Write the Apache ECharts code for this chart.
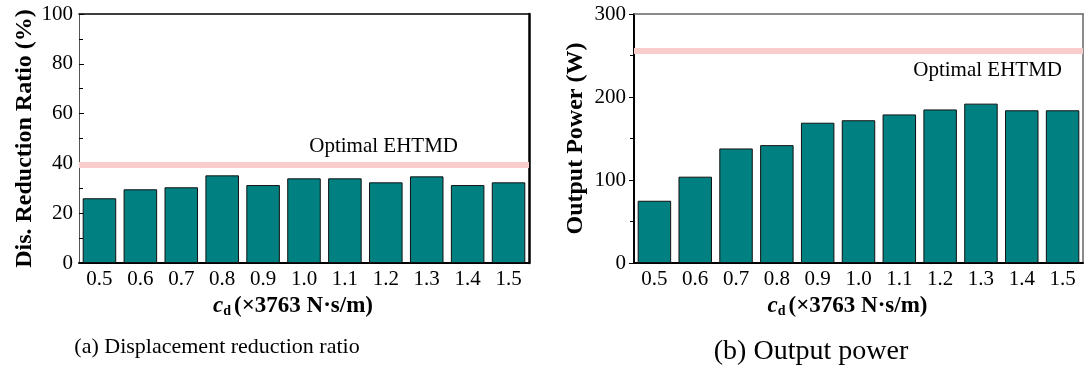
<!DOCTYPE html>
<html>
<head>
<meta charset="utf-8">
<script src="https://cdn.jsdelivr.net/npm/echarts@6/dist/echarts.min.js"></script>
<style>
  html, body { margin: 0; padding: 0; background: #fff; }
  #chart { width: 1089px; height: 373px; }
</style>
</head>
<body>
<div id="chart"></div>
<script>
const categories = ["0.5", "0.6", "0.7", "0.8", "0.9", "1.0", "1.1", "1.2", "1.3", "1.4", "1.5"];
const reductionRatio = [26.0, 29.6, 30.4, 35.2, 31.3, 34.0, 34.0, 32.4, 34.8, 31.3, 32.4];
const outputPower = [75, 104, 138, 142, 169, 172, 179, 185, 192, 184, 184];
const optimalRatio = 39.6;
const optimalPower = 256;

const font = "Liberation Serif";
const teal = "#008080";
const pink = "#f9cccc";

const xName = {
  name: "{i|c}{sub|d}(×3763 N·s/m)",
  nameLocation: "middle",
  nameGap: 24,
  nameTextStyle: {
    fontFamily: font, fontSize: 23, fontWeight: "bold", color: "#000",
    padding: [0, 22, 0, 0],
    rich: {
      i: { fontFamily: font, fontSize: 23, fontWeight: "bold", fontStyle: "italic", color: "#000" },
      sub: { fontFamily: font, fontSize: 14, fontWeight: "bold", color: "#000", verticalAlign: "bottom", padding: [7, 3, 0, 0] }
    }
  }
};

const bottomAxis = (gridIndex) => Object.assign({
  type: "category",
  gridIndex: gridIndex,
  data: categories,
  axisLine: { lineStyle: { color: "#000", width: 2 } },
  axisTick: { inside: true, alignWithLabel: true, length: 5, lineStyle: { color: "#000" } },
  axisLabel: { fontFamily: font, fontSize: 21, color: "#000", margin: 6 },
  splitLine: { show: false }
}, xName);

const chart = echarts.init(document.getElementById("chart"));
chart.setOption({
  animation: false,
  grid: [
    { left: 79, right: 560, top: 14, bottom: 110 },
    { left: 634, right: 6, top: 14, bottom: 110 }
  ],
  xAxis: [
    bottomAxis(0),
    {
      type: "category", gridIndex: 0, position: "top", data: categories,
      axisLine: { onZero: false, lineStyle: { color: "#000", width: 1.5 } },
      axisTick: { inside: true, alignWithLabel: true, length: 5, lineStyle: { color: "#000" } },
      axisLabel: { show: false }
    },
    bottomAxis(1),
    {
      type: "category", gridIndex: 1, position: "top", data: categories,
      axisLine: { onZero: false, lineStyle: { color: "#666", width: 1.5 } },
      axisTick: { show: false },
      axisLabel: { show: false }
    }
  ],
  yAxis: [
    {
      type: "value", gridIndex: 0, min: 0, max: 100, interval: 20,
      name: "Dis. Reduction Ratio (%)", nameLocation: "middle", nameGap: 42,
      nameTextStyle: { fontFamily: font, fontSize: 24, fontWeight: "bold", color: "#000" },
      axisLine: { show: true, lineStyle: { color: "#555", width: 1 } },
      axisTick: { show: true, inside: true, length: 5, lineStyle: { color: "#000" } },
      minorTick: { show: true, splitNumber: 2, length: 4, lineStyle: { color: "#000" } },
      axisLabel: { fontFamily: font, fontSize: 21, color: "#000", margin: 6 },
      splitLine: { show: false }
    },
    {
      type: "value", gridIndex: 0, position: "right", min: 0, max: 100,
      axisLine: { show: true, lineStyle: { color: "#000", width: 2.5 } },
      axisTick: { show: false }, axisLabel: { show: false }, splitLine: { show: false }
    },
    {
      type: "value", gridIndex: 1, min: 0, max: 300, interval: 100,
      name: "Output Power (W)", nameLocation: "middle", nameGap: 46,
      nameTextStyle: { fontFamily: font, fontSize: 24, fontWeight: "bold", color: "#000" },
      axisLine: { show: true, lineStyle: { color: "#000", width: 2 } },
      axisTick: { show: true, inside: false, length: 5, lineStyle: { color: "#000" } },
      minorTick: { show: true, splitNumber: 2, length: 4, lineStyle: { color: "#000" } },
      axisLabel: { fontFamily: font, fontSize: 21, color: "#000", margin: 8 },
      splitLine: { show: false }
    },
    {
      type: "value", gridIndex: 1, position: "right", min: 0, max: 300,
      axisLine: { show: true, lineStyle: { color: "#666", width: 1.5 } },
      axisTick: { show: false }, axisLabel: { show: false }, splitLine: { show: false }
    }
  ],
  series: [
    {
      type: "bar", xAxisIndex: 0, yAxisIndex: 0, data: reductionRatio,
      barCategoryGap: "18%",
      itemStyle: { color: teal, borderColor: "#111", borderWidth: 1 },
      markLine: {
        silent: true, symbol: "none",
        lineStyle: { color: pink, width: 6, type: "solid" },
        label: {
          show: true, position: "insideEndTop", formatter: "Optimal EHTMD",
          fontFamily: font, fontSize: 21, color: "#000", distance: 7,
          padding: [0, 64, 0, 0]
        },
        data: [{ yAxis: optimalRatio }]
      }
    },
    {
      type: "bar", xAxisIndex: 2, yAxisIndex: 2, data: outputPower,
      barCategoryGap: "18%",
      itemStyle: { color: teal, borderColor: "#111", borderWidth: 1 },
      markLine: {
        silent: true, symbol: "none",
        lineStyle: { color: pink, width: 6, type: "solid" },
        label: {
          show: true, position: "insideEndBottom", formatter: "Optimal EHTMD",
          fontFamily: font, fontSize: 21, color: "#000", distance: 9,
          padding: [0, 12, 0, 0]
        },
        data: [{ yAxis: optimalPower }]
      }
    }
  ],
  graphic: [
    {
      type: "text", x: 217, y: 347,
      style: { text: "(a) Displacement reduction ratio", font: "22px 'Liberation Serif'", fill: "#000", align: "center", verticalAlign: "middle" }
    },
    {
      type: "text", x: 811, y: 352,
      style: { text: "(b) Output power", font: "28px 'Liberation Serif'", fill: "#000", align: "center", verticalAlign: "middle" }
    }
  ]
});
</script>
</body>
</html>
